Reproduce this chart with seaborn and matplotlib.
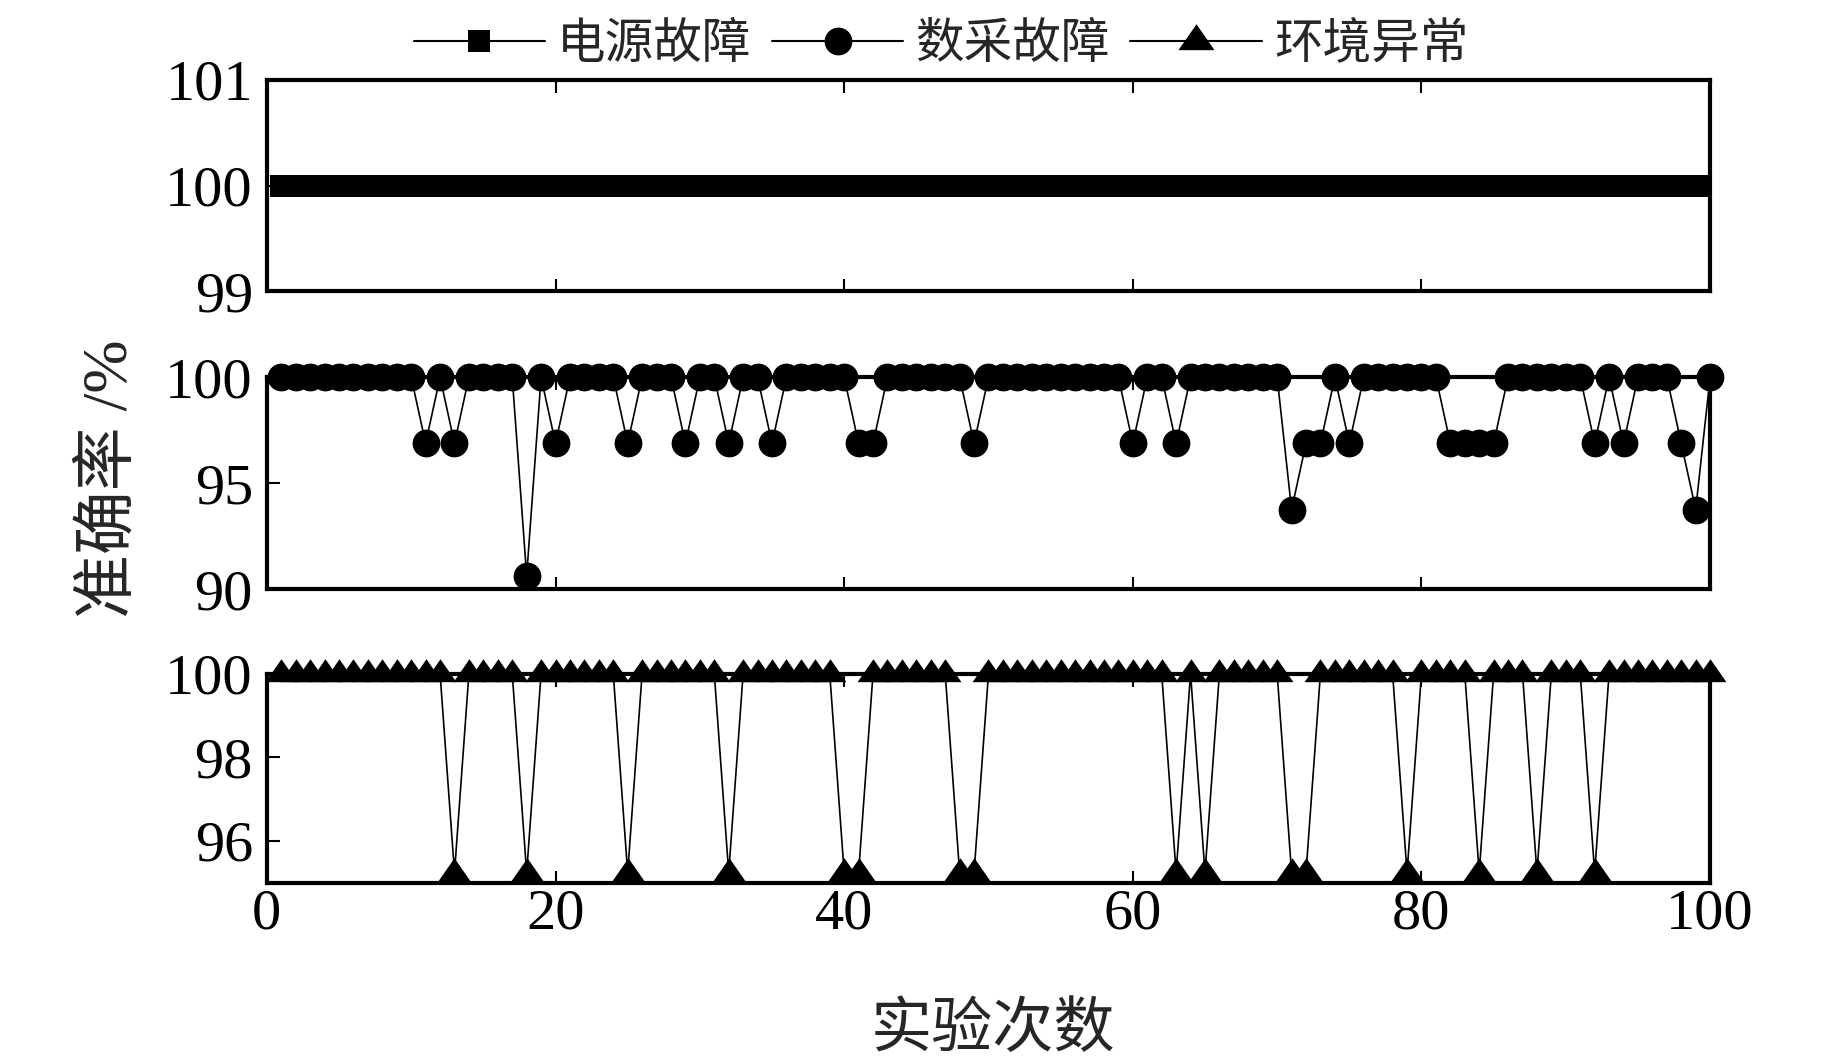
import matplotlib
matplotlib.use('Agg')
import matplotlib.pyplot as plt
import seaborn as sns
from matplotlib.lines import Line2D

# experiment index and accuracy (%) for each fault type
trials = list(range(1, 101))
series_names = ['电源故障', '数采故障', '环境异常']

power_acc = [
    100, 100, 100, 100, 100, 100, 100, 100, 100, 100,
    100, 100, 100, 100, 100, 100, 100, 100, 100, 100,
    100, 100, 100, 100, 100, 100, 100, 100, 100, 100,
    100, 100, 100, 100, 100, 100, 100, 100, 100, 100,
    100, 100, 100, 100, 100, 100, 100, 100, 100, 100,
    100, 100, 100, 100, 100, 100, 100, 100, 100, 100,
    100, 100, 100, 100, 100, 100, 100, 100, 100, 100,
    100, 100, 100, 100, 100, 100, 100, 100, 100, 100,
    100, 100, 100, 100, 100, 100, 100, 100, 100, 100,
    100, 100, 100, 100, 100, 100, 100, 100, 100, 100,
]

daq_acc = [
    100, 100, 100, 100, 100, 100, 100, 100, 100, 100,
    96.875, 100, 96.875, 100, 100, 100, 100, 90.625, 100, 96.875,
    100, 100, 100, 100, 96.875, 100, 100, 100, 96.875, 100,
    100, 96.875, 100, 100, 96.875, 100, 100, 100, 100, 100,
    96.875, 96.875, 100, 100, 100, 100, 100, 100, 96.875, 100,
    100, 100, 100, 100, 100, 100, 100, 100, 100, 96.875,
    100, 100, 96.875, 100, 100, 100, 100, 100, 100, 100,
    93.75, 96.875, 96.875, 100, 96.875, 100, 100, 100, 100, 100,
    100, 96.875, 96.875, 96.875, 96.875, 100, 100, 100, 100, 100,
    100, 96.875, 100, 96.875, 100, 100, 100, 96.875, 93.75, 100,
]

env_acc = [
    100, 100, 100, 100, 100, 100, 100, 100, 100, 100,
    100, 100, 95.24, 100, 100, 100, 100, 95.24, 100, 100,
    100, 100, 100, 100, 95.24, 100, 100, 100, 100, 100,
    100, 95.24, 100, 100, 100, 100, 100, 100, 100, 95.24,
    95.24, 100, 100, 100, 100, 100, 100, 95.24, 95.24, 100,
    100, 100, 100, 100, 100, 100, 100, 100, 100, 100,
    100, 100, 95.24, 100, 95.24, 100, 100, 100, 100, 100,
    95.24, 95.24, 100, 100, 100, 100, 100, 100, 95.24, 100,
    100, 100, 100, 95.24, 100, 100, 100, 95.24, 100, 100,
    100, 95.24, 100, 100, 100, 100, 100, 100, 100, 100,
]

panel_yticks = [[99, 100, 101], [90, 95, 100], [96, 98, 100]]
panel_ylims = [(99, 101), (90, 100), (95, 100)]

sns.set_theme(style='ticks')
plt.rcParams['font.family'] = ['Liberation Serif', 'Noto Sans CJK SC']
plt.rcParams['axes.edgecolor'] = 'black'
plt.rcParams['axes.linewidth'] = 3

# triangle with its centroid at the marker origin
tri = [(0, 15.3), (-16, -7.7), (16, -7.7), (0, 15.3)]
markers = ['s', 'o', tri]
marker_sizes = [16, 20, 23]
legend_sizes = [16, 20, 26]
clip_flags = [True, False, False]

fig = plt.figure(figsize=(18.43, 10.63), dpi=100)
left, width = 0.1448, 0.7831
boxes = [(0.7258, 0.1990), (0.4459, 0.1992), (0.1696, 0.1968)]

axes = []
for i, vals in enumerate([power_acc, daq_acc, env_acc]):
    b, h = boxes[i]
    ax = fig.add_axes([left, b, width, h])
    sns.lineplot(x=trials, y=vals, ax=ax, color='black', linewidth=1.2,
                 marker=markers[i], markersize=marker_sizes[i],
                 markeredgewidth=0, markeredgecolor='black',
                 estimator=None, clip_on=clip_flags[i], zorder=5)
    ax.set_xlim(0, 100)
    ax.set_ylim(*panel_ylims[i])
    ax.set_yticks(panel_yticks[i])
    ax.set_xticks(range(0, 101, 20))
    ax.tick_params(direction='in', length=9, width=1.5, top=True,
                   right=False, labelsize=42, colors='black')
    ax.tick_params(axis='y', pad=10)
    ax.tick_params(axis='x', pad=4)
    if i < 2:
        ax.tick_params(labelbottom=False)
    axes.append(ax)

axes[1].set_ylabel('准确率 /%', fontsize=46, va='center')
axes[1].yaxis.set_label_coords(-0.108, 0.52)
axes[2].set_xlabel('实验次数', fontsize=44, va='center')
axes[2].xaxis.set_label_coords(0.503, -0.709)

handles = [Line2D([], [], color='black', linewidth=1.5, marker=markers[i],
                  markersize=legend_sizes[i], markeredgewidth=0)
           for i in range(3)]
fig.legend(handles, series_names, loc='center', bbox_to_anchor=(0.5106, 0.9577),
           ncol=3, frameon=False, fontsize=35, handlelength=2.7,
           handletextpad=0.25, columnspacing=0.42, borderaxespad=0)

fig.savefig('out.png', dpi=100)
